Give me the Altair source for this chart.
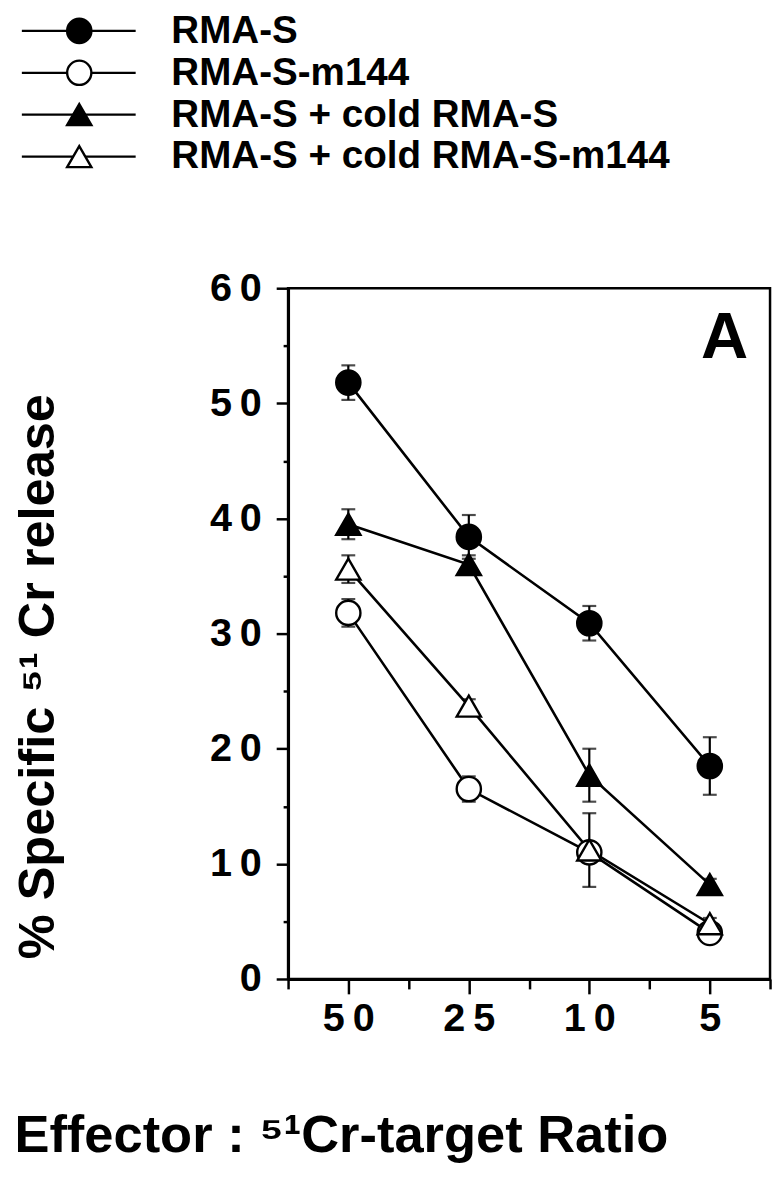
import altair as alt
import pandas as pd

# ---------------- data ----------------
ratios = ["50", "25", "10", "5"]
series = ["RMA-S", "RMA-S-m144", "RMA-S + cold RMA-S", "RMA-S + cold RMA-S-m144"]

rmas = [51.8, 38.4, 30.9, 18.5]
rmas_err = [1.5, 1.9, 1.5, 2.5]
m144 = [31.8, 16.5, 11.0, 4.0]
m144_err = [1.2, 1.1, 0.6, 0.5]
cold_rmas = [39.5, 36.0, 17.7, 8.2]
cold_rmas_err = [1.3, 0.8, 2.3, 0.5]
cold_m144 = [35.6, 23.7, 11.2, 4.8]
cold_m144_err = [1.2, 0.6, 3.2, 0.5]

y_ticks = [0, 10, 20, 30, 40, 50, 60]

values = [rmas, m144, cold_rmas, cold_m144]
errors = [rmas_err, m144_err, cold_rmas_err, cold_m144_err]

rows = []
for s, vals, errs in zip(series, values, errors):
    for i, (r, v, e) in enumerate(zip(ratios, vals, errs)):
        rows.append({"series": s, "ratio": r, "pos": 2 * i + 1,
                     "value": v, "lo": v - e, "hi": v + e})
df = pd.DataFrame(rows)
legend_df = pd.DataFrame({"series": series})

# ---------------- styling ----------------
FONT = "Liberation Sans"
SP = "\u2009"
W, H = 487, 698

shape_scale = alt.Scale(domain=series, range=["circle", "circle", "triangle-up", "triangle-up"])
fill_scale = alt.Scale(domain=series, range=["black", "white", "black", "white"])
x_scale = alt.Scale(domain=[0, 2 * len(ratios)], nice=False)
y_scale = alt.Scale(domain=[0, 60], nice=False, zero=True)

# tick labels
y_vals = sorted(y_ticks + [t + 5 for t in y_ticks[:-1]])
y_lab = [SP.join(str(v)) if v in y_ticks else "" for v in y_vals]
y_expr = "[" + ",".join("'" + l + "'" for l in y_lab) + "][datum.value/5]"
x_vals = list(range(0, 2 * len(ratios) + 1))
x_lab = [""] * len(x_vals)
for i, r in enumerate(ratios):
    x_lab[2 * i + 1] = SP.join(r)
x_expr = "[" + ",".join("'" + l + "'" for l in x_lab) + "][datum.value]"

x_axis = alt.Axis(
    values=x_vals, labelExpr=x_expr, grid=False,
    tickSize={"condition": {"test": "datum.value % 2 === 1", "value": 15}, "value": 10},
    labelPadding=5, labelBaseline="top", labelFlush=False,
    title="Effector : \u2075\u00b9Cr-target Ratio",
    titleX=-277, titleY=158, titleAlign="left", titleBaseline="middle",
    titleFontSize=53, titleFont=FONT, titleFontWeight="bold", titleColor="black",
)
y_axis = alt.Axis(
    values=y_vals, labelExpr=y_expr, grid=False,
    tickSize={"condition": {"test": "datum.value % 10 === 0", "value": 12}, "value": 5},
    labelPadding=15, labelFlush=False,
    title="% Specific \u2075\u00b9 Cr release",
    titleX=-252, titleY=392, titleAngle=270, titleAlign="center", titleBaseline="middle",
    titleFontSize=51, titleFont=FONT, titleFontWeight="bold", titleColor="black",
)

base = alt.Chart(df)

err_rule = base.mark_rule(color="black", strokeWidth=2.2).encode(
    x=alt.X("pos:Q", scale=x_scale), y=alt.Y("lo:Q", scale=y_scale), y2="hi:Q")
cap_lo = base.mark_tick(color="black", thickness=2.2, size=14, orient="horizontal").encode(
    x="pos:Q", y="lo:Q")
cap_hi = base.mark_tick(color="black", thickness=2.2, size=14, orient="horizontal").encode(
    x="pos:Q", y="hi:Q")
lines = base.mark_line(color="black", strokeWidth=2.6).encode(
    x="pos:Q", y="value:Q", detail="series:N", order="pos:Q")
points = base.mark_point(filled=True, stroke="black", strokeWidth=2.4, size=600,
                         opacity=1, fillOpacity=1).encode(
    x=alt.X("pos:Q", scale=x_scale, axis=x_axis),
    y=alt.Y("value:Q", scale=y_scale, axis=y_axis),
    shape=alt.Shape("series:N", scale=shape_scale, legend=None),
    fill=alt.Fill("series:N", scale=fill_scale, legend=None),
)
panel = alt.Chart(pd.DataFrame({"t": ["A"]})).mark_text(
    font=FONT, fontWeight="bold", fontSize=66, color="black",
    align="center", baseline="alphabetic").encode(
    text="t:N", x=alt.value(441), y=alt.value(71))

main = alt.layer(err_rule, cap_lo, cap_hi, lines, points, panel)

# ---------------- legend (top-left) ----------------
leg_y = alt.Y("series:N", scale=alt.Scale(type="point", domain=series, range=[-260, -133], padding=0),
              axis=None)
leg_base = alt.Chart(legend_df)
leg_lines = leg_base.mark_rule(color="black", strokeWidth=2.2).encode(
    y=leg_y, x=alt.value(-269), x2=alt.value(-154))
leg_points = leg_base.mark_point(filled=True, stroke="black", strokeWidth=2.4, size=600,
                                 opacity=1, fillOpacity=1).encode(
    y=leg_y, x=alt.value(-211),
    shape=alt.Shape("series:N", scale=shape_scale, legend=None),
    fill=alt.Fill("series:N", scale=fill_scale, legend=None),
)
leg_text = leg_base.mark_text(font=FONT, fontWeight="bold", fontSize=39, color="black",
                              align="left", baseline="middle").encode(
    y=leg_y, x=alt.value(-118), text="series:N")
legend = alt.layer(leg_lines, leg_points, leg_text)

chart = alt.layer(main, legend).resolve_scale(y="independent").properties(
    width=W, height=H,
    padding={"left": 283, "top": 277, "right": 4, "bottom": 200},
    autosize=alt.AutoSizeParams(type="none"),
).configure_view(stroke="black", strokeWidth=2.5).configure_axis(
    domainColor="black", domainWidth=3, tickColor="black", tickWidth=2.5,
    labelFont=FONT, labelFontWeight="bold", labelFontSize=40, labelColor="black",
)

chart.save("out.html", embed_options={"renderer": "svg", "actions": False})
